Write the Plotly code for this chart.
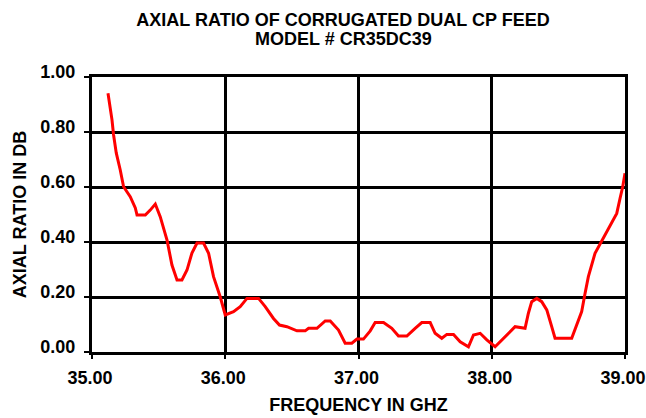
import plotly.graph_objects as go

freq = [35.120, 35.137, 35.150, 35.162, 35.182, 35.212, 35.237, 35.287, 35.325, 35.338,
        35.400, 35.437, 35.475, 35.512, 35.563, 35.600, 35.638, 35.675, 35.713, 35.750,
        35.788, 35.837, 35.875, 35.912, 35.962, 36.000, 36.062, 36.112, 36.163, 36.250,
        36.300, 36.362, 36.407, 36.463, 36.538, 36.600, 36.625, 36.688, 36.750, 36.788,
        36.850, 36.900, 36.950, 36.988, 37.037, 37.088, 37.125, 37.188, 37.250, 37.300,
        37.363, 37.425, 37.475, 37.538, 37.575, 37.625, 37.663, 37.713, 37.763, 37.825,
        37.863, 37.913, 37.963, 38.025, 38.113, 38.175, 38.250, 38.275, 38.300, 38.338,
        38.375, 38.413, 38.450, 38.475, 38.600, 38.638, 38.675, 38.700, 38.725, 38.775,
        38.838, 38.888, 38.938, 38.963, 38.983, 39.000]
axial_ratio = [0.941, 0.892, 0.844, 0.789, 0.724, 0.662, 0.601, 0.565, 0.524, 0.498,
               0.498, 0.516, 0.538, 0.492, 0.407, 0.316, 0.262, 0.262, 0.298, 0.360,
               0.396, 0.396, 0.359, 0.274, 0.201, 0.135, 0.147, 0.165, 0.195, 0.195,
               0.165, 0.122, 0.098, 0.092, 0.077, 0.077, 0.086, 0.086, 0.113, 0.113,
               0.080, 0.032, 0.032, 0.047, 0.047, 0.077, 0.107, 0.107, 0.086, 0.058,
               0.058, 0.086, 0.107, 0.107, 0.068, 0.050, 0.064, 0.064, 0.037, 0.019,
               0.062, 0.068, 0.044, 0.019, 0.062, 0.092, 0.086, 0.141, 0.183, 0.195,
               0.183, 0.153, 0.092, 0.050, 0.050, 0.098, 0.147, 0.213, 0.274, 0.359,
               0.413, 0.456, 0.504, 0.559, 0.601, 0.650]

x_ticks = [35.0, 36.0, 37.0, 38.0, 39.0]
y_ticks = [0.0, 0.2, 0.4, 0.6, 0.8, 1.0]
title_lines = ["AXIAL RATIO OF CORRUGATED DUAL CP FEED", "MODEL # CR35DC39"]

fig = go.Figure()
fig.add_trace(go.Scatter(x=freq, y=axial_ratio, mode="lines",
                         line=dict(color="#ff0000", width=3), showlegend=False))

font_bold = "Liberation Sans, Arial, sans-serif"
title_x = 0.471
fig.update_layout(
    width=646, height=418,
    paper_bgcolor="white", plot_bgcolor="white",
    margin=dict(l=92, r=21, t=77, b=66),
    title=dict(text=f"<b>{title_lines[0]}</b>",
               x=title_x, xanchor="center", xref="paper", y=1 - 19.5 / 418, yref="container",
               yanchor="middle",
               font=dict(family=font_bold, size=18, color="black")),
    font=dict(family=font_bold, color="black"),
    annotations=[dict(text=f"<b>{title_lines[1]}</b>", x=title_x, xref="paper", xanchor="center",
                      y=1 + (77 - 39) / 275, yref="paper", yanchor="middle", showarrow=False,
                      font=dict(family=font_bold, size=18, color="black"))],
)
fig.update_xaxes(range=[35, 39], tickvals=x_ticks, ticktext=[f"<b>{v:.2f}</b>" for v in x_ticks],
                 showgrid=True, gridcolor="black", gridwidth=2.5,
                 showline=True, linecolor="black", linewidth=3, mirror=True,
                 ticks="outside", ticklen=4, tickcolor="black", tickwidth=1.5,
                 ticklabelstandoff=3, ticklabelshift=-2, automargin=False,
                 tickfont=dict(size=18, family=font_bold), zeroline=False,
                 title=dict(text="<b>FREQUENCY IN GHZ</b>", font=dict(size=18, family=font_bold), standoff=12))
fig.update_yaxes(range=[0, 1], tickvals=y_ticks, ticktext=[f"<b>{v:.2f}</b>" for v in y_ticks],
                 showgrid=True, gridcolor="black", gridwidth=2.5,
                 showline=True, linecolor="black", linewidth=3, mirror=True,
                 ticks="outside", ticklen=5, tickcolor="black", tickwidth=1.5,
                 ticklabelstandoff=5, ticklabelshift=-5, automargin=False,
                 tickfont=dict(size=18, family=font_bold), zeroline=False,
                 title=dict(text="<b>AXIAL RATIO IN DB</b>", font=dict(size=18, family=font_bold), standoff=10))
fig.write_html("out.html", config={"displayModeBar": False},
               post_script="document.body.style.margin='0';")
